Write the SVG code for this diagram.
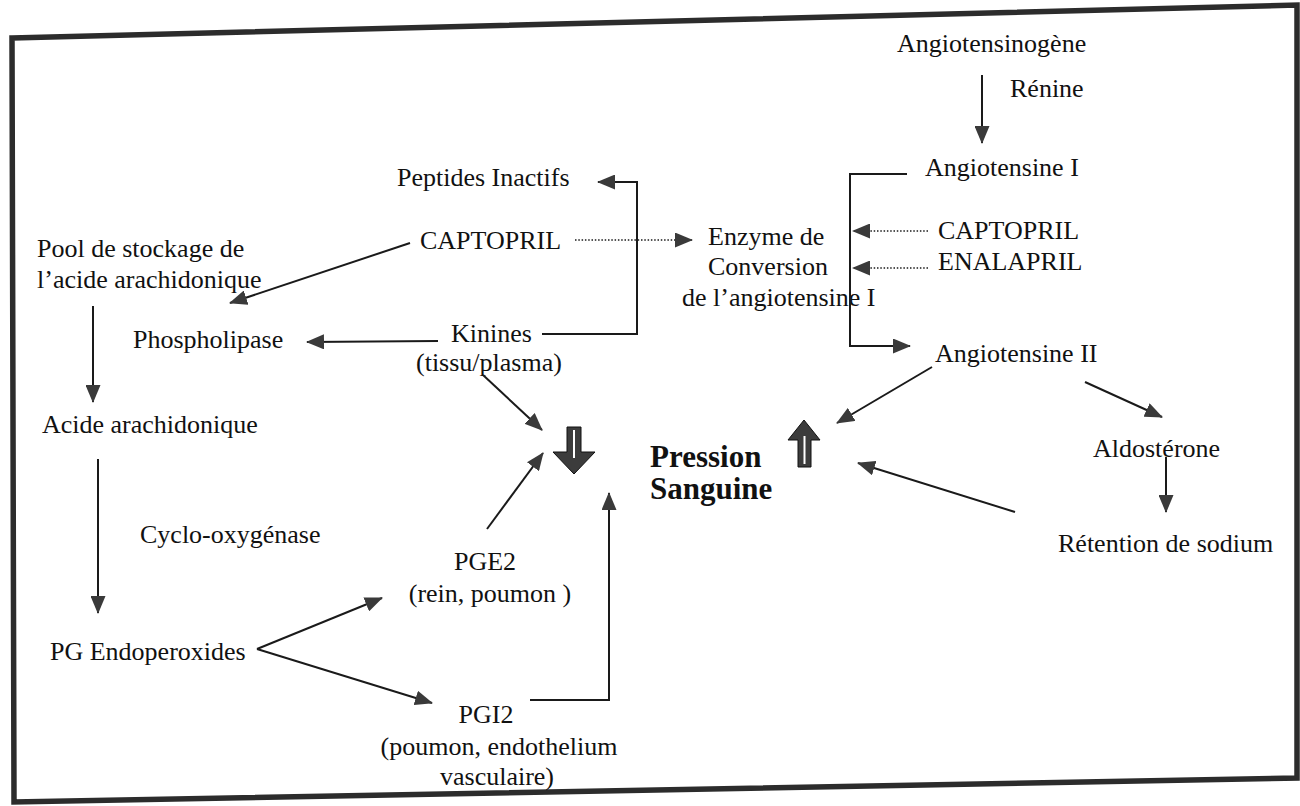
<svg xmlns="http://www.w3.org/2000/svg" width="1300" height="806" viewBox="0 0 1300 806">
<defs>
<style>
text{font-family:"Liberation Serif","Times New Roman",serif;font-size:26px;fill:#111}
.b{font-weight:bold;font-size:31px}
.ln{fill:none;stroke:#1a1a1a;stroke-width:2}
.dot{fill:none;stroke:#1a1a1a;stroke-width:1.6;stroke-dasharray:1.5 1.8}
.blk{fill:#3c3c3c;stroke:#111;stroke-width:1}
</style>
<marker id="ah" markerUnits="userSpaceOnUse" markerWidth="18" markerHeight="15" viewBox="0 0 18 15" refX="17" refY="7.5" orient="auto">
<path d="M0,0 L18,7.5 L0,15 Z" fill="#3a3a3a"/>
</marker>
</defs>
<rect width="1300" height="806" fill="#fff"/>
<path d="M12,38 L1297,5 L1297,778 L14,802 Z" fill="none" stroke="#2c2c2c" stroke-width="5.5"/>

<g id="angiotensinogene"><text x="897" y="52">Angiotensinogène</text></g>
<g id="renine"><text x="1010" y="97">Rénine</text></g>
<g id="angiotensine1"><text x="925" y="176">Angiotensine I</text></g>
<g id="captopril-r"><text x="938" y="239">CAPTOPRIL</text></g>
<g id="enalapril"><text x="938" y="270">ENALAPRIL</text></g>
<g id="enzyme"><text x="708" y="245">Enzyme de</text><text x="708" y="275">Conversion</text><text x="682" y="306">de l’angiotensine I</text></g>
<g id="angiotensine2"><text x="935" y="362">Angiotensine II</text></g>
<g id="peptides"><text x="397" y="186">Peptides Inactifs</text></g>
<g id="captopril-l"><text x="420" y="249">CAPTOPRIL</text></g>
<g id="pool"><text x="37" y="257">Pool de stockage de</text><text x="37" y="288">l’acide arachidonique</text></g>
<g id="phospholipase"><text x="133" y="348">Phospholipase</text></g>
<g id="kinines"><text x="451" y="342">Kinines</text><text x="416" y="371">(tissu/plasma)</text></g>
<g id="acide"><text x="42" y="433">Acide arachidonique</text></g>
<g id="cox"><text x="140" y="543">Cyclo-oxygénase</text></g>
<g id="pgendo"><text x="50" y="660">PG Endoperoxides</text></g>
<g id="pge2"><text x="485" y="570" text-anchor="middle">PGE2</text><text x="490" y="602" text-anchor="middle">(rein, poumon )</text></g>
<g id="pgi2"><text x="486" y="723" text-anchor="middle">PGI2</text><text x="499" y="755" text-anchor="middle">(poumon, endothelium</text><text x="497" y="785" text-anchor="middle">vasculaire)</text></g>
<g id="pression"><text class="b" x="650" y="467">Pression</text><text class="b" x="650" y="499">Sanguine</text></g>
<g id="down-arrow"><path class="blk" d="M567,427 L581,427 L581,452 L595,452 L574,474 L553,452 L567,452 Z"/><line x1="574" y1="430" x2="574" y2="458" stroke="#fff" stroke-width="2"/></g>
<g id="up-arrow"><path class="blk" d="M804,420 L820,440 L811,440 L811,467 L798,467 L798,440 L788,440 Z"/><line x1="804.5" y1="436" x2="804.5" y2="464" stroke="#fff" stroke-width="2"/></g>
<g id="aldosterone"><text x="1093" y="457">Aldostérone</text></g>
<g id="retention"><text x="1058" y="552">Rétention de sodium</text></g>

<g id="connectors">
<path class="ln" d="M982,75 L982,143" marker-end="url(#ah)"/>
<path class="ln" d="M907,174 L850,174 L850,346 L910,346" marker-end="url(#ah)"/>
<path class="dot" d="M928,231 L853,231" marker-end="url(#ah)"/>
<path class="dot" d="M928,268 L853,268" marker-end="url(#ah)"/>
<path class="dot" d="M575,240 L692,240" marker-end="url(#ah)"/>
<path class="ln" d="M542,334 L637,334 L637,182 L598,182" marker-end="url(#ah)"/>
<path class="ln" d="M410,243 L230,303" marker-end="url(#ah)"/>
<path class="ln" d="M438,341 L307,342" marker-end="url(#ah)"/>
<path class="ln" d="M93,306 L93,402" marker-end="url(#ah)"/>
<path class="ln" d="M98,459 L98,613" marker-end="url(#ah)"/>
<path class="ln" d="M257,649 L382,598" marker-end="url(#ah)"/>
<path class="ln" d="M257,649 L432,703" marker-end="url(#ah)"/>
<path class="ln" d="M487,529 L543,453" marker-end="url(#ah)"/>
<path class="ln" d="M530,700 L609,700 L609,493" marker-end="url(#ah)"/>
<path class="ln" d="M483,375 L542,430" marker-end="url(#ah)"/>
<path class="ln" d="M932,367 L837,423" marker-end="url(#ah)"/>
<path class="ln" d="M1085,382 L1162,417" marker-end="url(#ah)"/>
<path class="ln" d="M1166,457 L1166,512" marker-end="url(#ah)"/>
<path class="ln" d="M1015,512 L858,463" marker-end="url(#ah)"/>
</g>
</svg>
